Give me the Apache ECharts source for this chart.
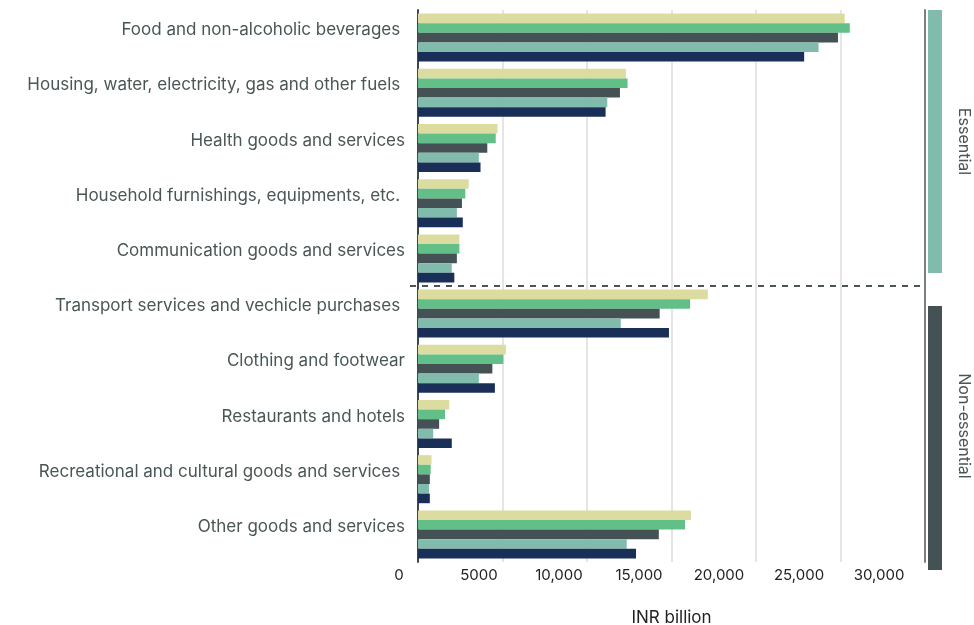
<!DOCTYPE html>
<html><head><meta charset="utf-8">
<script src="https://cdn.jsdelivr.net/npm/echarts@6/dist/echarts.min.js"></script>
<style>html,body{margin:0;padding:0;background:#fff}#c{width:974px;height:625px}</style>
</head><body><div id="c"></div>
<script>
// Categories (top to bottom)
const categories = [
  'Food and non-alcoholic beverages ',
  'Housing, water, electricity, gas and other fuels ',
  'Health goods and services',
  'Household furnishings, equipments, etc. ',
  'Communication goods and services',
  'Transport services and vechicle purchases ',
  'Clothing and footwear',
  'Restaurants and hotels',
  'Recreational and cultural goods and services ',
  'Other goods and services'
];
// Five series, in order from top bar to bottom bar within each group (INR billion)
const seriesNames = ['Series 1', 'Series 2', 'Series 3', 'Series 4', 'Series 5'];
const seriesYellow = [25250, 12300, 4700, 3000, 2450, 17150, 5200, 1850, 800, 16150];
const seriesGreen  = [25550, 12400, 4600, 2800, 2450, 16100, 5050, 1600, 750, 15800];
const seriesGray   = [24850, 11950, 4100, 2600, 2300, 14300, 4400, 1250, 700, 14250];
const seriesTeal   = [23700, 11200, 3600, 2300, 2000, 12000, 3600, 900, 650, 12350];
const seriesNavy   = [22850, 11100, 3700, 2650, 2150, 14850, 4550, 2000, 700, 12900];
const xTicks = [0, 5000, 10000, 15000, 20000, 25000, 30000];
const groupNames = ['Essential', 'Non-essential'];
const groupRanges = [[0, 4], [5, 9]];

const colors = ['#dcdba0', '#62bf87', '#445256', '#80bbac', '#1a2f57'];
const allSeries = [seriesYellow, seriesGreen, seriesGray, seriesTeal, seriesNavy];
const FONT = 'Inter';
const xMin = xTicks[0], xMax = xTicks[xTicks.length - 1], xStep = xTicks[1] - xTicks[0];

const chart = echarts.init(document.getElementById('c'));
const fmt = v => v >= 10000 ? v.toLocaleString('en-US') : String(v);

chart.setOption({
  animation: false,
  backgroundColor: '#fff',
  textStyle: { fontFamily: FONT },
  grid: [
    { left: 418, right: 49, top: 10, bottom: 63, containLabel: false, outerBoundsMode: 'none' },
    { left: 399, right: 95, top: 10, bottom: 63, containLabel: false, outerBoundsMode: 'none' }
  ],
  xAxis: [
    {
      gridIndex: 0, type: 'value', min: xMin, max: xMax, interval: xStep,
      axisLine: { show: false }, axisTick: { show: false }, axisLabel: { show: false },
      splitLine: { show: true, lineStyle: { color: '#dcdcdc', width: 1.5 } },
      name: 'INR billion', nameLocation: 'middle', nameGap: 47,
      nameTextStyle: { fontFamily: FONT, fontSize: 17, color: '#222' }
    },
    {
      gridIndex: 1, type: 'value', min: xMin, max: xMax, interval: xStep,
      axisLine: { show: false }, axisTick: { show: false }, splitLine: { show: false },
      axisLabel: { show: true, margin: 6, fontFamily: FONT, fontSize: 15, color: '#222', formatter: fmt }
    }
  ],
  yAxis: [
    {
      gridIndex: 0, type: 'category', data: categories, inverse: true,
      axisLine: { show: true, lineStyle: { color: '#3d4a4a', width: 2 } },
      axisTick: { show: false },
      axisLabel: { margin: 13, fontFamily: FONT, fontSize: 17, color: '#4a5656', verticalAlign: 'bottom', lineHeight: 15 }
    },
    {
      gridIndex: 0, type: 'category', data: categories, inverse: true, position: 'right',
      axisLine: { show: true, lineStyle: { color: '#7a7f80', width: 2 } },
      axisTick: { show: false }, axisLabel: { show: false }
    },
    {
      gridIndex: 1, type: 'category', data: categories, show: false
    }
  ],
  series: allSeries.map((d, i) => ({
    name: seriesNames[i], type: 'bar', xAxisIndex: 0, yAxisIndex: 0,
    data: d, barGap: '0%', barCategoryGap: '13%',
    itemStyle: { color: colors[i] }
  }))
});

function drawDecor() {
  const yPix = c => chart.convertToPixel({ yAxisIndex: 0 }, c);
  const xPix = v => chart.convertToPixel({ xAxisIndex: 0 }, v);
  const band = yPix(categories[1]) - yPix(categories[0]);
  const xL = xPix(xMin), xR = xPix(xMax);
  const boundary = (yPix(categories[groupRanges[0][1]]) + yPix(categories[groupRanges[1][0]])) / 2;
  const topY = yPix(categories[0]) - band / 2;
  const botY = yPix(categories[categories.length - 1]) + band / 2;
  const rects = [
    { y0: topY, y1: boundary - 13, color: '#80bbac' },
    { y0: boundary + 20, y1: botY + 8, color: '#445256' }
  ];
  const g = [];
  g.push({
    type: 'line', shape: { x1: xL - 8, y1: boundary, x2: xR - 3, y2: boundary },
    style: { stroke: '#4a5557', lineWidth: 2, lineDash: [6, 6] }, z: 10
  });
  rects.forEach((r, i) => {
    g.push({ type: 'rect', shape: { x: xR + 3, y: r.y0, width: 14, height: r.y1 - r.y0 }, style: { fill: r.color } });
    g.push({
      type: 'text', x: xR + 39, y: (r.y0 + r.y1) / 2 - (i === 1 ? 12 : 0), rotation: -Math.PI / 2,
      style: { text: groupNames[i], fontFamily: FONT, fontSize: 16, fill: '#4a5656', align: 'center', verticalAlign: 'middle' }
    });
  });
  chart.setOption({ graphic: g });
}
drawDecor();
</script>
</body></html>
